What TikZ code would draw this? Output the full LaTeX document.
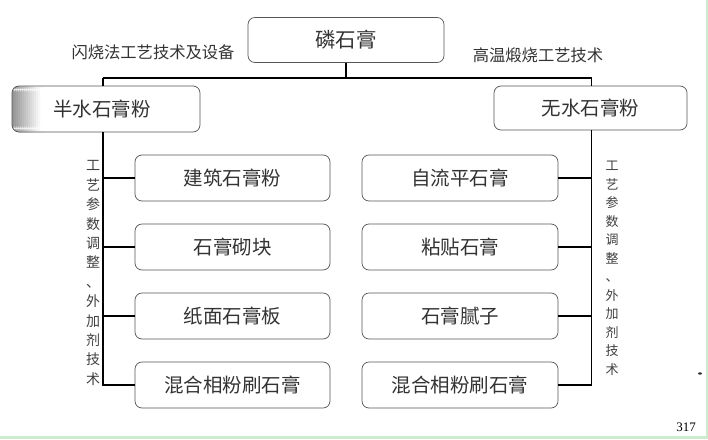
\documentclass[tikz,border=0pt]{standalone}
\usepackage{fontspec}
\newfontfamily\cjk{Noto Sans CJK SC}
\setmainfont{Liberation Serif}
\definecolor{boxline}{HTML}{555555}
\definecolor{edgegreen}{HTML}{CDEBCD}
\tikzset{
  rbox/.style={draw=boxline, line width=0.7pt, rounded corners=7pt, minimum height=46pt,
    font=\cjk\fontsize{19.5}{19.5}\selectfont, text=black!80, inner sep=0pt},
  conn/.style={draw=black, line width=1.4pt},
  sidelabel/.style={font=\cjk\fontsize{16.3}{16.3}\selectfont, text=black!80, inner sep=0pt},
  vlabel/.style={font=\cjk\fontsize{14}{19.4}\selectfont, text=black!75, align=center, inner sep=0pt},
}
\begin{document}
\begin{tikzpicture}[x=1pt,y=-1pt]
\useasboundingbox (0,0) rectangle (708,439);
\fill[white] (0,0) rectangle (708,439);
\fill[edgegreen] (0,436) rectangle (708,439);
\fill[edgegreen] (705.5,0) rectangle (708,439);

\node[rbox, minimum width=196pt, minimum height=45pt, font=\cjk\fontsize{20.5}{20.5}\selectfont] (top) at (346,40) {磷石膏};
\node[sidelabel] (ltech) at (153,52) {闪烧法工艺技术及设备};
\node[sidelabel] (rtech) at (538,55) {高温煅烧工艺技术};

\node[rbox, minimum width=188pt, path picture={
  \foreach \i in {0,...,13}{
    \pgfmathsetmacro{\g}{42-3*\i}
    \fill[black!\g] ([xshift=2*\i pt]path picture bounding box.south west) rectangle ([xshift=2*\i pt+2.2pt]path picture bounding box.north west);
  }}]
  (L) at (106,109) {\hspace*{-8pt}半水石膏粉};
\node[rbox, minimum width=193pt, minimum height=44pt] (R) at (590.5,108) {无水石膏粉};

\foreach \n/\y/\t in {l1/178/建筑石膏粉, l2/247/石膏砌块, l3/316/纸面石膏板, l4/385/混合相粉刷石膏}
  \node[rbox, minimum width=195pt] (\n) at (232.5,\y) {\t};
\foreach \n/\y/\t in {r1/178/自流平石膏, r2/247/粘贴石膏, r3/316/石膏腻子, r4/385/混合相粉刷石膏}
  \node[rbox, minimum width=196pt] (\n) at (460,\y) {\t};

\coordinate (hub) at (346,78);
\coordinate (lbus) at (103,78);
\coordinate (rbus) at (591.5,78);
\draw[conn] (top.south) -- (hub);
\draw[conn] (lbus) -- (rbus);
\draw[conn] (lbus) -- (lbus |- L.north);
\draw[conn] (rbus) -- (rbus |- R.north);
\draw[conn] (lbus |- L.south) -- (lbus |- l4.west) -- (l4.west);
\draw[conn] (rbus |- R.south) -- (rbus |- r4.east) -- (r4.east);
\foreach \n in {l1,l2,l3} \draw[conn] (lbus |- \n.west) -- (\n.west);
\foreach \n in {r1,r2,r3} \draw[conn] (rbus |- \n.east) -- (\n.east);

\node[vlabel] (lv) at (93,273) {工\\艺\\参\\数\\调\\整\\、\\外\\加\\剂\\技\\术};
\node[vlabel, font=\cjk\fontsize{13}{18.5}\selectfont] (rv) at (612,268.5) {工\\艺\\参\\数\\调\\整\\、\\外\\加\\剂\\技\\术};

\node[font=\fontsize{13}{13}\selectfont, inner sep=0pt] (page) at (686,427) {317};
\fill[black!80] (700,373.5) ellipse (2pt and 1.2pt);
\end{tikzpicture}
\end{document}
